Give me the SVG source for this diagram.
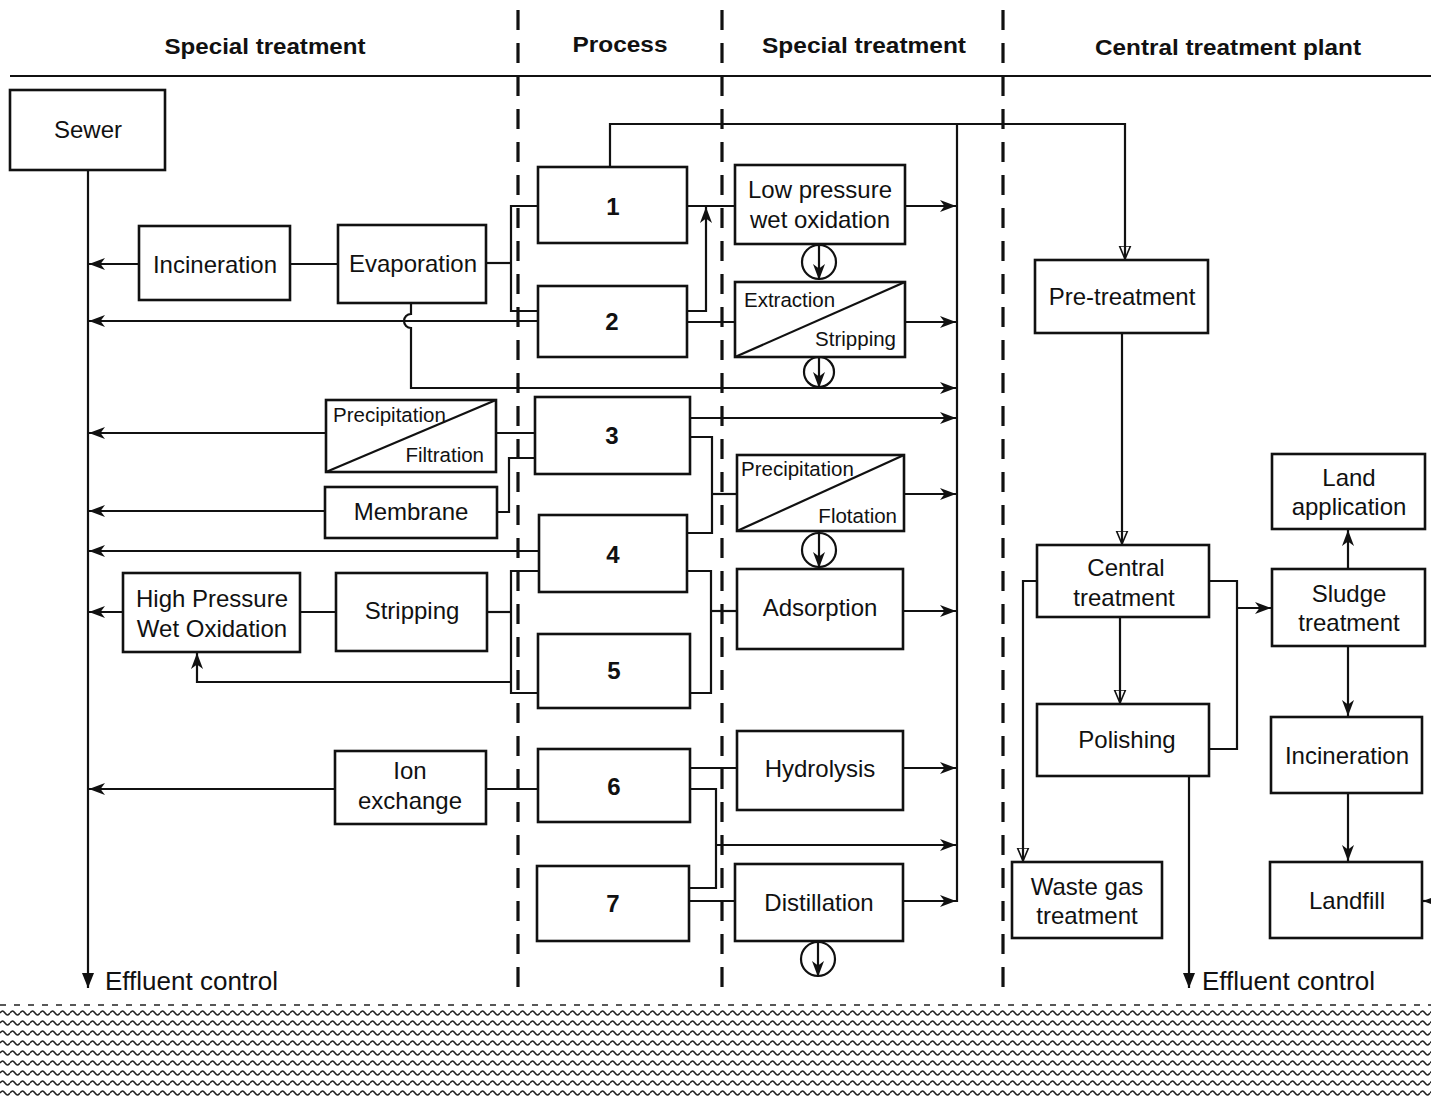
<svg xmlns="http://www.w3.org/2000/svg" width="1431" height="1096" viewBox="0 0 1431 1096">
  <style>
    .box { fill: #fff; stroke: #111; stroke-width: 2.6; }
    .ln { fill: none; stroke: #111; stroke-width: 2.2; }
    .sep { fill: none; stroke: #111; stroke-width: 3.2; stroke-dasharray: 20 13; }
    .t { font-family: "Liberation Sans", Arial, sans-serif; font-size: 24px; fill: #111; text-anchor: middle; }
    .h { font-weight: bold; font-size: 22px; }
    .s { font-size: 20.5px; }
    .n { font-weight: bold; font-size: 24px; }
    .eff { font-size: 26px; text-anchor: start; }
    .st { text-anchor: start; }
    .en { text-anchor: end; }
  </style>
  <defs>
    <marker id="arr" markerUnits="userSpaceOnUse" viewBox="0 0 16 12" refX="16" refY="6" markerWidth="16" markerHeight="12" orient="auto">
      <path d="M0,0 L16,6 L0,12 L4.5,6 z" fill="#111"/>
    </marker>
    <marker id="open" markerUnits="userSpaceOnUse" viewBox="0 0 13 14" refX="13" refY="7" markerWidth="13" markerHeight="14" orient="auto">
      <path d="M0,1.5 L13,7 L0,12.5 z" fill="none" stroke="#111" stroke-width="1.6"/>
    </marker>
    <marker id="tri" markerUnits="userSpaceOnUse" viewBox="0 0 15 12" refX="15" refY="6" markerWidth="15" markerHeight="12" orient="auto">
      <path d="M0,0 L15,6 L0,12 z" fill="#111"/>
    </marker>
    <pattern id="waves" patternUnits="userSpaceOnUse" x="0" y="1008" width="10" height="10">
      <path d="M0,5 C2,2.4 3,2.4 5,5 C7,7.6 8,7.6 10,5" fill="none" stroke="#222" stroke-width="1.6"/>
    </pattern>
  </defs>

  <!-- column headings -->
  <g id="headings">
    <text class="t h" x="265" y="54" textLength="201" lengthAdjust="spacingAndGlyphs">Special treatment</text>
    <text class="t h" x="620" y="52" textLength="95" lengthAdjust="spacingAndGlyphs">Process</text>
    <text class="t h" x="864" y="53" textLength="204" lengthAdjust="spacingAndGlyphs">Special treatment</text>
    <text class="t h" x="1228" y="55" textLength="266" lengthAdjust="spacingAndGlyphs">Central treatment plant</text>
    <line class="ln" x1="10" y1="76" x2="1431" y2="76"/>
  </g>

  <!-- column separators -->
  <g id="separators">
    <line class="sep" x1="518" y1="10" x2="518" y2="998"/>
    <line class="sep" x1="722" y1="10" x2="722" y2="998"/>
    <line class="sep" x1="1003" y1="10" x2="1003" y2="998"/>
  </g>

  <!-- connectors -->
  <g id="connectors">
    <!-- sewer trunk to effluent control -->
    <path class="ln" d="M88,170 V988" marker-end="url(#tri)"/>
    <!-- returns to the sewer trunk -->
    <path class="ln" d="M139,264 H89" marker-end="url(#arr)"/>
    <path class="ln" d="M290,264 H338"/>
    <path class="ln" d="M538,321 H89" marker-end="url(#arr)"/>
    <path class="ln" d="M326,433 H89" marker-end="url(#arr)"/>
    <path class="ln" d="M325,511 H89" marker-end="url(#arr)"/>
    <path class="ln" d="M539,551 H89" marker-end="url(#arr)"/>
    <path class="ln" d="M123,612 H89" marker-end="url(#arr)"/>
    <path class="ln" d="M335,789 H89" marker-end="url(#arr)"/>

    <!-- evaporation feed to processes 1 and 2 -->
    <path class="ln" d="M486,263 H511"/>
    <path class="ln" d="M538,206 H511 V311 H538"/>
    <!-- evaporation bottoms, hopping over the return line -->
    <path class="ln" d="M411,303 V314 A7,7 0 0 0 411,328 V388 H956" marker-end="url(#arr)"/>

    <!-- process 1 and 2 outlets -->
    <path class="ln" d="M610,167 V124 H1125 V259" marker-end="url(#open)"/>
    <path class="ln" d="M687,206 H735"/>
    <path class="ln" d="M687,311 H706 V207" marker-end="url(#arr)"/>
    <path class="ln" d="M687,322 H735"/>

    <!-- collector -->
    <path class="ln" d="M957,124 V902"/>
    <path class="ln" d="M905,206 H956" marker-end="url(#arr)"/>
    <path class="ln" d="M905,322 H956" marker-end="url(#arr)"/>

    <!-- process 3 -->
    <path class="ln" d="M496,433 H535"/>
    <path class="ln" d="M497,512 H509 V458 H535"/>
    <path class="ln" d="M690,418 H956" marker-end="url(#arr)"/>
    <path class="ln" d="M690,437 H712 V533 H687"/>
    <path class="ln" d="M712,494 H737"/>
    <path class="ln" d="M904,494 H956" marker-end="url(#arr)"/>

    <!-- processes 4 and 5 -->
    <path class="ln" d="M539,571 H511 V693 H538"/>
    <path class="ln" d="M487,612 H511"/>
    <path class="ln" d="M300,612 H336"/>
    <path class="ln" d="M511,682 H197 V653" marker-end="url(#arr)"/>
    <path class="ln" d="M687,571 H711 V693 H690"/>
    <path class="ln" d="M711,611 H737"/>
    <path class="ln" d="M903,611 H956" marker-end="url(#arr)"/>

    <!-- processes 6 and 7 -->
    <path class="ln" d="M486,789 H538"/>
    <path class="ln" d="M690,768 H737"/>
    <path class="ln" d="M690,789 H716 V888 H689"/>
    <path class="ln" d="M716,845 H956" marker-end="url(#arr)"/>
    <path class="ln" d="M689,901 H735"/>
    <path class="ln" d="M903,768 H956" marker-end="url(#arr)"/>
    <path class="ln" d="M903,901 H956" marker-end="url(#arr)"/>

    <!-- central treatment plant -->
    <path class="ln" d="M1122,333 V544" marker-end="url(#open)"/>
    <path class="ln" d="M1037,581 H1023 V861" marker-end="url(#open)"/>
    <path class="ln" d="M1120,618 V703" marker-end="url(#open)"/>
    <path class="ln" d="M1209,581 H1237 V749 H1209"/>
    <path class="ln" d="M1237,608 H1271" marker-end="url(#arr)"/>
    <path class="ln" d="M1189,777 V988" marker-end="url(#tri)"/>
    <path class="ln" d="M1348,569 V530" marker-end="url(#arr)"/>
    <path class="ln" d="M1348,646 V716" marker-end="url(#arr)"/>
    <path class="ln" d="M1348,793 V861" marker-end="url(#arr)"/>
    <path class="ln" d="M1440,901 H1423" marker-end="url(#arr)"/>

    <!-- discharge symbols -->
    <g id="discharge">
      <circle class="ln" cx="819" cy="262" r="17"/>
      <path class="ln" d="M819,245 V280" marker-end="url(#arr)"/>
      <circle class="ln" cx="819" cy="372" r="15"/>
      <path class="ln" d="M819,357 V388" marker-end="url(#arr)"/>
      <circle class="ln" cx="819" cy="550" r="17"/>
      <path class="ln" d="M819,532 V568" marker-end="url(#arr)"/>
      <circle class="ln" cx="818" cy="959" r="17"/>
      <path class="ln" d="M818,942 V977" marker-end="url(#arr)"/>
    </g>
  </g>

  <!-- special treatment (left) -->
  <g id="sewer">
    <rect class="box" x="10" y="90" width="155" height="80"/>
    <text class="t" x="88" y="138">Sewer</text>
  </g>
  <g id="incineration-left">
    <rect class="box" x="139" y="226" width="151" height="74"/>
    <text class="t" x="215" y="273">Incineration</text>
  </g>
  <g id="evaporation">
    <rect class="box" x="338" y="225" width="148" height="78"/>
    <text class="t" x="413" y="272">Evaporation</text>
  </g>
  <g id="precipitation-filtration">
    <rect class="box" x="326" y="400" width="170" height="72"/>
    <line class="ln" x1="326" y1="472" x2="496" y2="400"/>
    <text class="t s st" x="333" y="422">Precipitation</text>
    <text class="t s en" x="484" y="462">Filtration</text>
  </g>
  <g id="membrane">
    <rect class="box" x="325" y="487" width="172" height="51"/>
    <text class="t" x="411" y="520">Membrane</text>
  </g>
  <g id="hp-wet-oxidation">
    <rect class="box" x="123" y="573" width="177" height="79"/>
    <text class="t" x="212" y="607">High Pressure</text>
    <text class="t" x="212" y="637">Wet Oxidation</text>
  </g>
  <g id="stripping-left">
    <rect class="box" x="336" y="573" width="151" height="78"/>
    <text class="t" x="412" y="619">Stripping</text>
  </g>
  <g id="ion-exchange">
    <rect class="box" x="335" y="751" width="151" height="73"/>
    <text class="t" x="410" y="779">Ion</text>
    <text class="t" x="410" y="809">exchange</text>
  </g>

  <!-- processes -->
  <g id="process-1">
    <rect class="box" x="538" y="167" width="149" height="76"/>
    <text class="t n" x="613" y="215">1</text>
  </g>
  <g id="process-2">
    <rect class="box" x="538" y="286" width="149" height="71"/>
    <text class="t n" x="612" y="330">2</text>
  </g>
  <g id="process-3">
    <rect class="box" x="535" y="397" width="155" height="77"/>
    <text class="t n" x="612" y="444">3</text>
  </g>
  <g id="process-4">
    <rect class="box" x="539" y="515" width="148" height="77"/>
    <text class="t n" x="613" y="563">4</text>
  </g>
  <g id="process-5">
    <rect class="box" x="538" y="634" width="152" height="74"/>
    <text class="t n" x="614" y="679">5</text>
  </g>
  <g id="process-6">
    <rect class="box" x="538" y="749" width="152" height="73"/>
    <text class="t n" x="614" y="795">6</text>
  </g>
  <g id="process-7">
    <rect class="box" x="537" y="866" width="152" height="75"/>
    <text class="t n" x="613" y="912">7</text>
  </g>

  <!-- special treatment (right) -->
  <g id="lp-wet-oxidation">
    <rect class="box" x="735" y="165" width="170" height="79"/>
    <text class="t" x="820" y="198">Low pressure</text>
    <text class="t" x="820" y="228">wet oxidation</text>
  </g>
  <g id="extraction-stripping">
    <rect class="box" x="735" y="282" width="170" height="75"/>
    <line class="ln" x1="735" y1="357" x2="905" y2="282"/>
    <text class="t s st" x="744" y="307">Extraction</text>
    <text class="t s en" x="896" y="346">Stripping</text>
  </g>
  <g id="precipitation-flotation">
    <rect class="box" x="737" y="455" width="167" height="76"/>
    <line class="ln" x1="737" y1="531" x2="904" y2="455"/>
    <text class="t s st" x="741" y="476">Precipitation</text>
    <text class="t s en" x="897" y="523">Flotation</text>
  </g>
  <g id="adsorption">
    <rect class="box" x="737" y="569" width="166" height="80"/>
    <text class="t" x="820" y="616">Adsorption</text>
  </g>
  <g id="hydrolysis">
    <rect class="box" x="737" y="731" width="166" height="79"/>
    <text class="t" x="820" y="777">Hydrolysis</text>
  </g>
  <g id="distillation">
    <rect class="box" x="735" y="864" width="168" height="77"/>
    <text class="t" x="819" y="911">Distillation</text>
  </g>

  <!-- central treatment plant -->
  <g id="pre-treatment">
    <rect class="box" x="1035" y="260" width="173" height="73"/>
    <text class="t" x="1122" y="305">Pre-treatment</text>
  </g>
  <g id="central-treatment">
    <rect class="box" x="1037" y="545" width="172" height="72"/>
    <text class="t" x="1126" y="576">Central</text>
    <text class="t" x="1124" y="606">treatment</text>
  </g>
  <g id="polishing">
    <rect class="box" x="1037" y="704" width="172" height="72"/>
    <text class="t" x="1127" y="748">Polishing</text>
  </g>
  <g id="waste-gas">
    <rect class="box" x="1012" y="862" width="150" height="76"/>
    <text class="t" x="1087" y="895">Waste gas</text>
    <text class="t" x="1087" y="924">treatment</text>
  </g>
  <g id="land-application">
    <rect class="box" x="1272" y="454" width="153" height="75"/>
    <text class="t" x="1349" y="486">Land</text>
    <text class="t" x="1349" y="515">application</text>
  </g>
  <g id="sludge-treatment">
    <rect class="box" x="1272" y="569" width="153" height="77"/>
    <text class="t" x="1349" y="602">Sludge</text>
    <text class="t" x="1349" y="631">treatment</text>
  </g>
  <g id="incineration-right">
    <rect class="box" x="1271" y="717" width="151" height="76"/>
    <text class="t" x="1347" y="764">Incineration</text>
  </g>
  <g id="landfill">
    <rect class="box" x="1270" y="862" width="152" height="76"/>
    <text class="t" x="1347" y="909">Landfill</text>
  </g>

  <!-- effluent labels -->
  <text class="t eff" x="105" y="990">Effluent control</text>
  <text class="t eff" x="1202" y="990">Effluent control</text>

  <!-- receiving water -->
  <g id="water">
    <line x1="0" y1="1005" x2="1431" y2="1005" stroke="#222" stroke-width="1.6" stroke-dasharray="6 8"/>
    <rect x="0" y="1008" width="1431" height="88" fill="url(#waves)"/>
  </g>
</svg>
